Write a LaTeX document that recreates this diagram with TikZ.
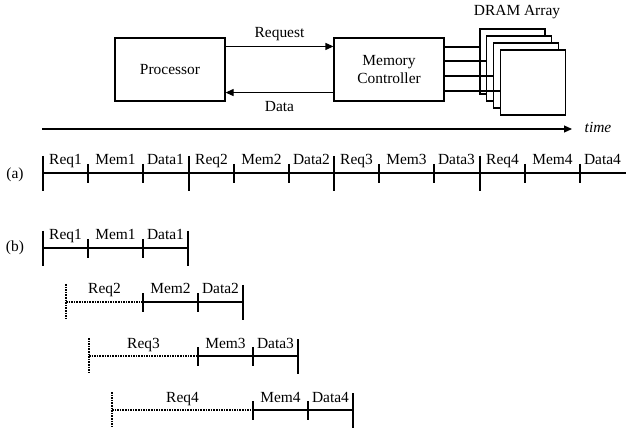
\documentclass[tikz,border=0pt]{standalone}
\usepackage{fontspec}
\setmainfont{Liberation Serif}
\usetikzlibrary{arrows.meta,positioning,calc}
\tikzset{
  unitbox/.style={draw,line width=1.1bp,minimum width=110bp,minimum height=63bp,
    align=center,inner sep=0pt},
  bank/.style={draw,fill=white,line width=1.1bp,minimum width=65bp,minimum height=65bp,
    inner sep=0pt},
  wire/.style={line width=1.1bp},
  link/.style={-{Triangle[length=8bp,width=7bp]},line width=1.1bp},
  seg/.style={line width=1.2bp},
  bigtick/.style={line width=1.6bp},
  smalltick/.style={line width=1.6bp},
  wait/.style={line width=2bp,dash pattern=on 1.6bp off 1bp},
  waittick/.style={line width=2.2bp,dash pattern=on 1.6bp off 1bp},
  stage/.style={anchor=base,inner sep=0pt}
}
\begin{document}
\begin{tikzpicture}[x=1bp,y=-1bp,font=\fontsize{15.5}{18}\selectfont]
\useasboundingbox (0,0) rectangle (626,433);
% processor, controller and the DRAM banks
\node[unitbox] (proc) at (170,69.5) {Processor};
\node[unitbox] (mc) at (389,69.5) {Memory\\Controller};
\foreach \i in {1,...,4}
  \node[bank] (d\i) at (505.8+6.7*\i,54.5+7*\i) {};
\node[anchor=base] (dlbl) at (517,16) {DRAM Array};
\foreach \i/\y in {1/47,2/61,3/76,4/91}{
  \coordinate (h\i) at (0,\y);
  \draw[wire] (mc.east |- h\i) -- (d\i.west |- h\i);}
\draw[link] ([yshift=-9bp]proc.north east) -- node[above=5bp,inner sep=0pt] (req) {Request}
  ([yshift=-9bp]mc.north west);
\draw[link] ([yshift=9bp]mc.south west) -- node[below=8bp,inner sep=0pt] (dat) {Data}
  ([yshift=9bp]proc.south east);
% time axis
\coordinate (t0) at (42,129);
\coordinate (t1) at (572,129);
\draw[link] (t0) -- (t1);
\node[anchor=base] (tlbl) at (598,133) {\itshape time};
% (a) one request after the other
\node (lbla) at (15,175) {(a)};
\coordinate (a0) at (43,173);
\coordinate (a1) at (626,173);
\draw[seg] (a0) -- (a1);
\foreach \k [evaluate=\k as \s using round(43+145.7*(\k-1))] in {1,...,4}{
  \draw[bigtick] (\s,156) -- (\s,191);
  \draw[smalltick] (\s+45,164) -- (\s+45,183);
  \draw[smalltick] (\s+100,164) -- (\s+100,183);
  \node[stage] (a-req\k) at (\s+22.5,165) {Req\k};
  \node[stage] (a-mem\k) at (\s+72.5,165) {Mem\k};
  \node[stage] (a-data\k) at (\s+122.5,165) {Data\k};
}
% (b) requests issued early, waiting for the controller
\node (lblb) at (15,248) {(b)};
\foreach \r in {0,...,3}{
  \pgfmathsetmacro\y{248+54*\r}
  \pgfmathsetmacro\s{43+23*\r}
  \pgfmathsetmacro\m{88+55*\r}
  \pgfmathtruncatemacro\n{\r+1}
  \ifnum\r=0
    \draw[bigtick] (\s,\y-17) -- (\s,\y+18);
    \draw[seg] (\s,\y) -- (\m,\y);
  \else
    \draw[waittick] (\s,\y-18) -- (\s,\y+18);
    \draw[wait] (\s,\y) -- (\m,\y);
  \fi
  \draw[seg] (\m,\y) -- (\m+100,\y);
  \draw[smalltick] (\m,\y-9) -- (\m,\y+10);
  \draw[smalltick] (\m+55,\y-9) -- (\m+55,\y+10);
  \draw[bigtick] (\m+100,\y-17) -- (\m+100,\y+18);
  \node[stage] (b-req\n) at ({(\s+\m)/2},\y-8) {Req\n};
  \node[stage] (b-mem\n) at (\m+27.5,\y-8) {Mem\n};
  \node[stage] (b-data\n) at (\m+77.5,\y-8) {Data\n};
}
\end{tikzpicture}
\end{document}
